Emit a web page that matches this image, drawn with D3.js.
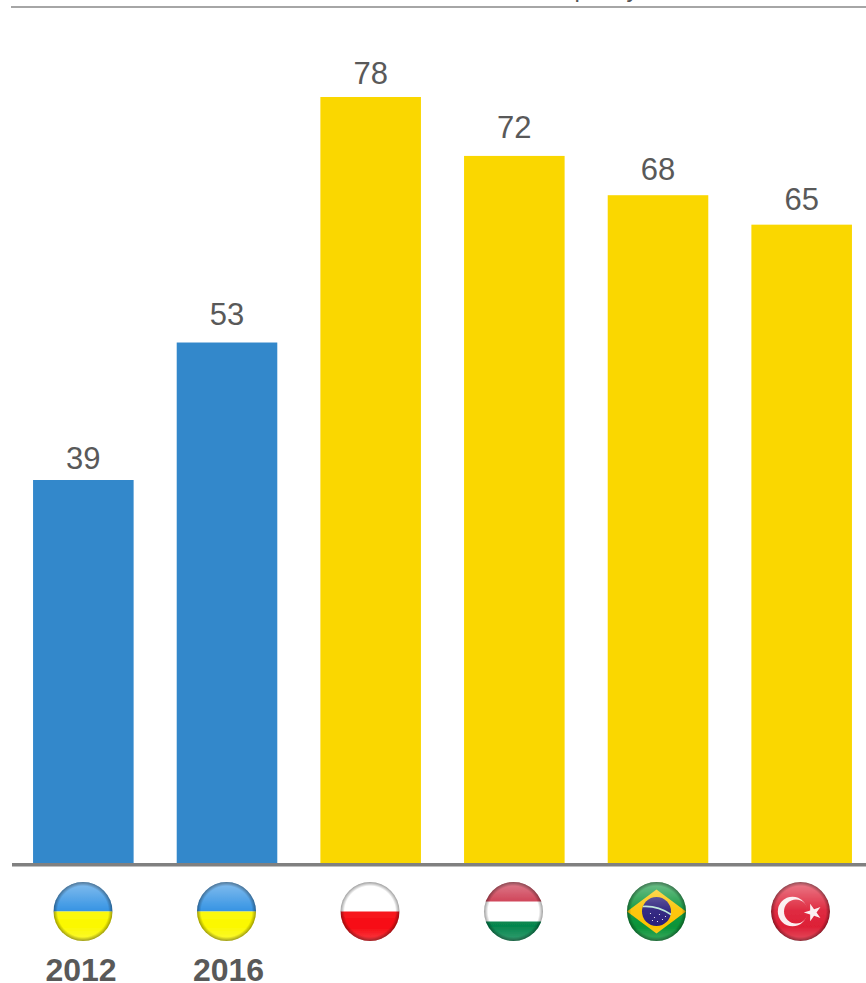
<!DOCTYPE html>
<html>
<head>
<meta charset="utf-8">
<script src="https://cdn.jsdelivr.net/npm/d3@7"></script>
<style>
  html, body { margin: 0; padding: 0; background: #fff; overflow: hidden; }
  svg { display: block; }
  text { font-family: "Liberation Sans", Arial, sans-serif; }
</style>
</head>
<body>
<svg id="chart" width="866" height="983"></svg>
<script>
const categories = ["2012", "2016", "Poland", "Hungary", "Brazil", "Turkey"];
const values = [39, 53, 78, 72, 68, 65];
const groups = ["ukraine", "ukraine", "peer", "peer", "peer", "peer"];
const yearLabels = ["2012", "2016"];
const flags = ["ukraine", "ukraine", "poland", "hungary", "brazil", "turkey"];
const groupColors = { ukraine: "#3388cb", peer: "#fad700" };

// Layout: extra lift of each value label, centre of each badge, centre of each year caption
const labelLift = [-2, 4.5, 0, 5, 2, 1.5];
const badgeCentres = [83, 226.5, 370, 513.5, 656.5, 800.5];
const yearCentres = [81, 228.5];

const svg = d3.select("#chart");
const baseline = 863;
const x = d3.scaleBand().domain(categories).range([11.5, 873.5]).paddingInner(0.3).paddingOuter(0.15);
const y = d3.scaleLinear().domain([0, 78]).range([baseline, 97]);

// Heading clipped by the page edge, and the rule beneath it
svg.append("text").attr("x", 574.5).attr("y", -3).attr("font-size", 24).attr("fill", "#555").text("p");
svg.append("text").attr("x", 626.5).attr("y", -3).attr("font-size", 24).attr("fill", "#555").text("y");
svg.append("rect").attr("x", 11).attr("y", 6).attr("width", 855).attr("height", 2).attr("fill", "#a6a6a6");

const defs = svg.append("defs");
const gloss = defs.append("linearGradient").attr("id", "gloss").attr("x1", 0).attr("x2", 0).attr("y1", 0).attr("y2", 1);
gloss.append("stop").attr("offset", "0%").attr("stop-color", "#fff").attr("stop-opacity", 0.42);
gloss.append("stop").attr("offset", "48%").attr("stop-color", "#fff").attr("stop-opacity", 0.06);
gloss.append("stop").attr("offset", "75%").attr("stop-color", "#fff").attr("stop-opacity", 0);
gloss.append("stop").attr("offset", "100%").attr("stop-color", "#fff").attr("stop-opacity", 0.2);
const rim = defs.append("radialGradient").attr("id", "rim");
rim.append("stop").attr("offset", "86%").attr("stop-color", "#000").attr("stop-opacity", 0);
rim.append("stop").attr("offset", "100%").attr("stop-color", "#000").attr("stop-opacity", 0.38);
defs.append("filter").attr("id", "soft").append("feGaussianBlur").attr("stdDeviation", 0.55);

// Bars and value labels
svg.selectAll("rect.bar").data(categories).join("rect").attr("class", "bar")
  .attr("x", d => x(d)).attr("width", x.bandwidth())
  .attr("y", (d, i) => y(values[i])).attr("height", (d, i) => baseline - y(values[i]))
  .attr("fill", (d, i) => groupColors[groups[i]]);

svg.selectAll("text.value").data(categories).join("text").attr("class", "value")
  .attr("x", d => x(d) + x.bandwidth() / 2).attr("y", (d, i) => y(values[i]) - 13 - labelLift[i])
  .attr("text-anchor", "middle").attr("font-size", 31).attr("fill", "#595959")
  .text((d, i) => values[i]);

svg.append("rect").attr("x", 12).attr("y", 863).attr("width", 854).attr("height", 3.5).attr("fill", "#808080");

// Round flag badges
const r = 29.5;
const cy = 911.5;
const stripe = (g, top, h, fill) => g.append("rect").attr("x", -r).attr("y", top).attr("width", 2 * r).attr("height", h).attr("fill", fill);
const drawFlag = {
  ukraine(g) {
    stripe(g, -r, r, "#2b8ee2");
    stripe(g, 0, r, "#fbf800");
  },
  poland(g) {
    stripe(g, -r, r, "#fff");
    stripe(g, 0, r, "#f70a12");
  },
  hungary(g) {
    stripe(g, -r, 20, "#c61f38");
    stripe(g, -10, 20, "#fff");
    stripe(g, 10, 20, "#05864e");
  },
  brazil(g) {
    stripe(g, -r, 2 * r, "#0a9438");
    g.append("polygon").attr("points", `${-r},0 0,${-22} ${r},0 0,${22}`).attr("fill", "#fcc300");
    g.append("circle").attr("r", 14.5).attr("fill", "#2a1f7c");
    g.append("path").attr("d", "M-13.5,-5 Q1,-6 14.5,3").attr("fill", "none").attr("stroke", "#b8e6d8").attr("stroke-width", 1.6);
    [[-6, 2], [-2, 6], [3, 3], [6, 8], [-4, 9], [9, 5], [1, 10]].forEach(([a, b]) =>
      g.append("circle").attr("cx", a).attr("cy", b).attr("r", 0.6).attr("fill", "#fff"));
  },
  turkey(g) {
    g.append("circle").attr("r", r).attr("fill", "#dd1f36");
    g.append("circle").attr("cx", -8).attr("r", 14.7).attr("fill", "#fbeef0");
    g.append("circle").attr("cx", -4.5).attr("r", 12).attr("fill", "#dd1f36");
    g.append("path").attr("d", d3.symbol().type(d3.symbolStar).size(95)()).attr("transform", "translate(12.5,1) rotate(-90)").attr("fill", "#fbeef0");
  }
};

flags.forEach((f, i) => {
  defs.append("clipPath").attr("id", `disc${i}`).append("circle").attr("r", r);
  const g = svg.append("g").attr("transform", `translate(${badgeCentres[i]},${cy})`).attr("filter", "url(#soft)");
  const face = g.append("g").attr("clip-path", `url(#disc${i})`);
  drawFlag[f](face);
  g.append("circle").attr("r", r).attr("fill", "url(#gloss)");
  g.append("circle").attr("r", r).attr("fill", "url(#rim)");
});

// Year captions under the Ukraine columns
svg.selectAll("text.year").data(yearLabels).join("text").attr("class", "year")
  .attr("x", (d, i) => yearCentres[i]).attr("y", 981)
  .attr("text-anchor", "middle").attr("font-size", 32).attr("font-weight", "bold").attr("fill", "#595959")
  .text(d => d);
</script>
</body>
</html>
